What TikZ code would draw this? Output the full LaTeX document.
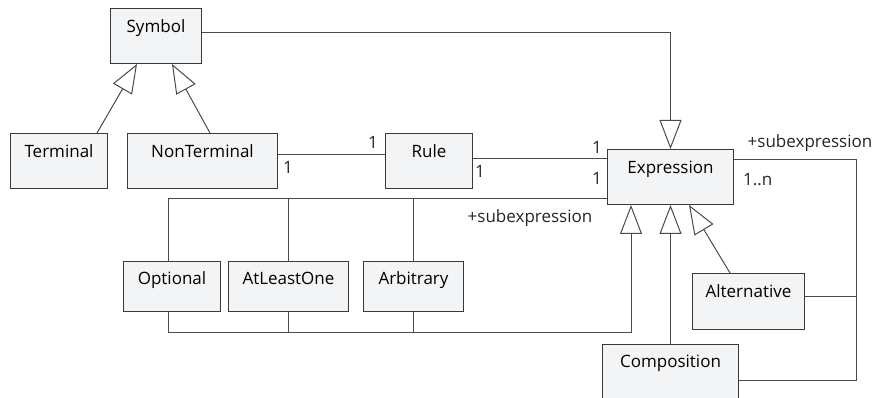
\documentclass[tikz,border=0pt]{standalone}
\usepackage{fontspec}
\setmainfont{Open Sans}
\usetikzlibrary{arrows.meta,calc}
\definecolor{boxfill}{HTML}{F3F4F6}
\definecolor{edge}{HTML}{3A3A3A}
\definecolor{wire}{HTML}{4A4A4A}
\begin{document}
\begin{tikzpicture}[x=1pt,y=-1pt,
  font=\fontsize{17}{20}\selectfont,
  cls/.style={draw=edge, fill=boxfill, line width=1pt, inner sep=0pt,
    text height=24pt, text depth=31pt, anchor=north west},
  small/.style={text height=23pt, text depth=27pt},
  conn/.style={draw=wire, line width=1pt},
  gen/.style={conn, -{Triangle[open,length=29pt,width=22pt]}},
  lbl/.style={inner sep=0pt, text=black!85}]
\useasboundingbox (0,0) rectangle (878,398);
% classes
\node[cls, minimum width=91pt] (symbol) at (110,8) {Symbol};
\node[cls, minimum width=97pt] (terminal) at (10,133) {Terminal};
\node[cls, minimum width=150pt] (nonterminal) at (127,133) {NonTerminal};
\node[cls, minimum width=87pt] (rule) at (385,133) {Rule};
\node[cls, minimum width=126pt] (expr) at (607,149) {Expression};
\node[cls, small, minimum width=97pt] (optional) at (123,261) {Optional};
\node[cls, small, minimum width=120pt] (atleastone) at (228,261) {AtLeastOne};
\node[cls, small, minimum width=100pt] (arbitrary) at (363,261) {Arbitrary};
\node[cls, text depth=32pt, minimum width=112pt] (alternative) at (692,273) {Alternative};
\node[cls, text height=23pt, text depth=33pt, minimum width=136pt] (composition) at (602,344) {Composition};
% Symbol -> Expression
\draw[gen] ($(symbol.north east)+(0,25)$) -| (expr.north);
% generalizations to Symbol
\draw[gen] ($(terminal.north west)+(87,0)$) -- ($(symbol.south west)+(27,0)$);
\draw[gen] ($(nonterminal.north west)+(83,0)$) -- ($(symbol.south west)+(62,0)$);
% NonTerminal -- Rule
\coordinate (a1) at ($(nonterminal.north east)+(0,22)$);
\draw[conn] (a1) -- (a1 -| rule.west);
\node[lbl] (m1) at (288,167) {1};
\node[lbl] (m2) at (373,142) {1};
% Rule -- Expression
\coordinate (a2) at ($(rule.north east)+(0,26)$);
\draw[conn] (a2) -- (a2 -| expr.west);
\node[lbl] (m3) at (480,171) {1};
\node[lbl] (m4) at (597,147) {1};
% Expression -- Optional/AtLeastOne/Arbitrary (subexpression)
\coordinate (a3) at ($(expr.south west)+(0,-6)$);
\coordinate (optT) at ($(optional.north)+(-3.5,0)$);
\draw[conn] (a3) -| (optT);
\draw[conn] (atleastone.north) -- (atleastone.north |- a3);
\draw[conn] (arbitrary.north) -- (arbitrary.north |- a3);
\node[lbl] (m5) at (597,178) {1};
\node[lbl] (sub1) at (530,218) {+subexpression};
% Optional/AtLeastOne/Arbitrary -> Expression
\coordinate (optB) at ($(optional.south)+(-3.5,0)$);
\coordinate (genA) at ($(expr.south west)+(24,0)$);
\draw[gen] (optB) -- ++(0,20) -| (genA);
\draw[conn] (atleastone.south) -- ++(0,20);
\draw[conn] (arbitrary.south) -- ++(0,20);
% Composition, Alternative -> Expression
\draw[gen] (composition.north) -- (expr.south);
\draw[gen] ($(alternative.north west)+(38,0)$) -- ($(expr.south east)+(-45,0)$);
% Expression subexpression to Alternative/Composition
\coordinate (rx) at (856,0);
\coordinate (a4) at ($(expr.north east)+(0,11)$);
\coordinate (a5) at ($(composition.north east)+(0,36)$);
\coordinate (a6) at ($(alternative.north east)+(0,23)$);
\draw[conn] (a4) -- (a4 -| rx) -- (rx |- a5) -- (a5);
\draw[conn] (a6) -- (a6 -| rx);
\node[lbl] (sub2) at (810,143) {+subexpression};
\node[lbl, anchor=west] (mn) at (743,180) {1..n};
\end{tikzpicture}
\end{document}
